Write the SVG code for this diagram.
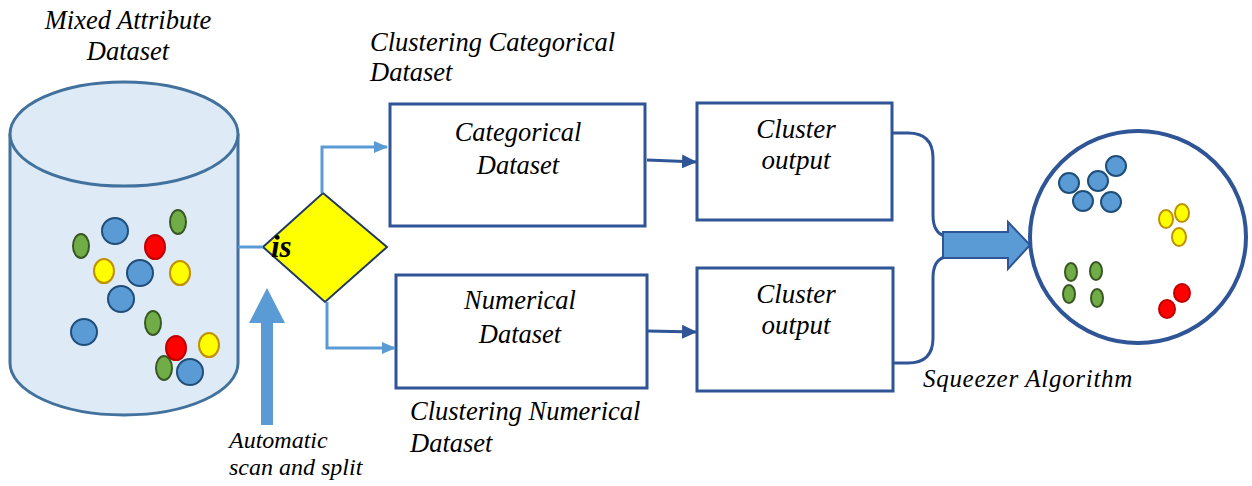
<svg xmlns="http://www.w3.org/2000/svg" width="1252" height="486" viewBox="0 0 1252 486">
<defs>
<style>
.lbl{font-family:"Liberation Serif","Times New Roman","DejaVu Serif",serif;font-style:italic;fill:#000;}
.box{fill:#fff;stroke:#2F5597;stroke-width:3;}
.lb{fill:none;stroke:#5B9BD5;stroke-width:3;}
.db{fill:none;stroke:#2F5597;stroke-width:3;}
.bl{fill:#5B9BD5;stroke:#1F4E79;stroke-width:2;}
.gr{fill:#70AD47;stroke:#385723;stroke-width:2;}
.ye{fill:#FFFF00;stroke:#BF9000;stroke-width:2;}
.re{fill:#FF0000;stroke:#C00000;stroke-width:2;}
</style>
<marker id="ahL" markerWidth="14" markerHeight="12" refX="13" refY="6" orient="auto" markerUnits="userSpaceOnUse">
<path d="M0,0 L14,6 L0,12 Z" fill="#5B9BD5"/>
</marker>
<marker id="ahD" markerWidth="15" markerHeight="14" refX="15" refY="7" orient="auto" markerUnits="userSpaceOnUse">
<path d="M0,0 L15,7 L0,14 Z" fill="#2F5597"/>
</marker>
</defs>
<rect width="1252" height="486" fill="#fff"/>

<g id="dataset">
<path d="M10,134 L10,363 A114,52 0 0 0 238,363 L238,134" fill="#DEEBF7" stroke="#41719C" stroke-width="3"/>
<ellipse cx="124" cy="134" rx="114" ry="52" fill="#DEEBF7" stroke="#41719C" stroke-width="3"/>
<circle class="bl" cx="115" cy="231" r="13"/>
<ellipse class="gr" cx="178" cy="222" rx="8" ry="12"/>
<ellipse class="gr" cx="81" cy="246" rx="8" ry="12"/>
<ellipse class="re" cx="155" cy="247" rx="10" ry="12"/>
<ellipse class="ye" cx="104" cy="271" rx="10" ry="12"/>
<circle class="bl" cx="140" cy="273" r="13"/>
<ellipse class="ye" cx="180" cy="273" rx="10" ry="12"/>
<circle class="bl" cx="121" cy="299" r="13"/>
<circle class="bl" cx="84" cy="332" r="13"/>
<ellipse class="gr" cx="153" cy="323" rx="8" ry="12"/>
<ellipse class="ye" cx="209" cy="345" rx="10" ry="12"/>
<ellipse class="gr" cx="164" cy="368" rx="8" ry="12"/>
<ellipse class="re" cx="176" cy="348" rx="10" ry="12"/>
<circle class="bl" cx="190" cy="372" r="13"/>
<text class="lbl" font-size="26.5" text-anchor="middle" x="128" y="29">Mixed Attribute</text>
<text class="lbl" font-size="26.5" text-anchor="middle" x="128" y="60">Dataset</text>
</g>

<g id="decision">
<path d="M263,247 L323,193 L387,247 L325,302 Z" fill="#FFFF00" stroke="#203864" stroke-width="2"/>
<text x="271" y="257" font-family="Liberation Serif, Times New Roman, serif" font-style="italic" font-weight="bold" font-size="31">is</text>
</g>

<g id="scan">
<path d="M261,425 L261,323 L249,323 L267,288 L285,323 L273,323 L273,425 Z" fill="#5B9BD5"/>
<text class="lbl" font-size="24" x="229" y="448">Automatic</text>
<text class="lbl" font-size="24" x="229" y="475">scan and split</text>
</g>

<g id="categorical">
<rect class="box" x="390" y="104" width="255" height="122"/>
<text class="lbl" font-size="26.5" text-anchor="middle" x="518" y="141">Categorical</text>
<text class="lbl" font-size="26.5" text-anchor="middle" x="518" y="174">Dataset</text>
<text class="lbl" font-size="26.5" x="370" y="51">Clustering Categorical</text>
<text class="lbl" font-size="26.5" x="370" y="81">Dataset</text>
</g>

<g id="numerical">
<rect class="box" x="396" y="275" width="251" height="113"/>
<text class="lbl" font-size="26.5" text-anchor="middle" x="520" y="309">Numerical</text>
<text class="lbl" font-size="26.5" text-anchor="middle" x="520" y="343">Dataset</text>
<text class="lbl" font-size="26.5" x="410" y="420">Clustering Numerical</text>
<text class="lbl" font-size="26.5" x="410" y="452">Dataset</text>
</g>

<g id="cluster1">
<rect class="box" x="697" y="103" width="195" height="117"/>
<text class="lbl" font-size="27" text-anchor="middle" x="796" y="138">Cluster</text>
<text class="lbl" font-size="27" text-anchor="middle" x="796" y="169">output</text>
</g>

<g id="cluster2">
<rect class="box" x="697" y="268" width="196" height="123"/>
<text class="lbl" font-size="27" text-anchor="middle" x="796" y="303">Cluster</text>
<text class="lbl" font-size="27" text-anchor="middle" x="796" y="334">output</text>
</g>

<g id="result">
<ellipse cx="1138" cy="237" rx="108" ry="106" fill="#fff" stroke="#2F5597" stroke-width="4"/>
<circle class="bl" cx="1116" cy="166" r="10"/>
<circle class="bl" cx="1069" cy="183" r="10"/>
<circle class="bl" cx="1098" cy="181" r="10"/>
<circle class="bl" cx="1083" cy="201" r="10"/>
<circle class="bl" cx="1111" cy="202" r="10"/>
<ellipse class="ye" cx="1182" cy="213" rx="7" ry="9"/>
<ellipse class="ye" cx="1166" cy="219" rx="7" ry="9"/>
<ellipse class="ye" cx="1179" cy="237" rx="7" ry="9"/>
<ellipse class="gr" cx="1071" cy="272" rx="6" ry="9"/>
<ellipse class="gr" cx="1096" cy="271" rx="6" ry="9"/>
<ellipse class="gr" cx="1069" cy="294" rx="6" ry="9"/>
<ellipse class="gr" cx="1097" cy="298" rx="6" ry="9"/>
<ellipse class="re" cx="1182" cy="293" rx="8" ry="9"/>
<ellipse class="re" cx="1167" cy="309" rx="8" ry="9"/>
<text class="lbl" font-size="25" x="923" y="387" letter-spacing="0.7">Squeezer Algorithm</text>
</g>

<g id="connectors">
<path class="lb" d="M238,247 L263,247"/>
<path class="lb" d="M322,193 L322,147 L387,147" marker-end="url(#ahL)"/>
<path class="lb" d="M327,302 L327,348 L395,348" marker-end="url(#ahL)"/>
<path class="db" d="M647,160 L697,162" marker-end="url(#ahD)"/>
<path class="db" d="M647,331 L697,332" marker-end="url(#ahD)"/>
<path class="db" d="M892,133 L908,133 Q933,133 933,158 L933,215 Q933,233 945,236"/>
<path class="db" d="M945,257 Q933,260 933,278 L933,338 Q933,363 908,363 L893,363"/>
<path d="M943,232 L1008,232 L1008,222 L1030,245 L1008,269 L1008,258 L943,258 Z" fill="#5B9BD5" stroke="#2F5597" stroke-width="2"/>
</g>
</svg>
